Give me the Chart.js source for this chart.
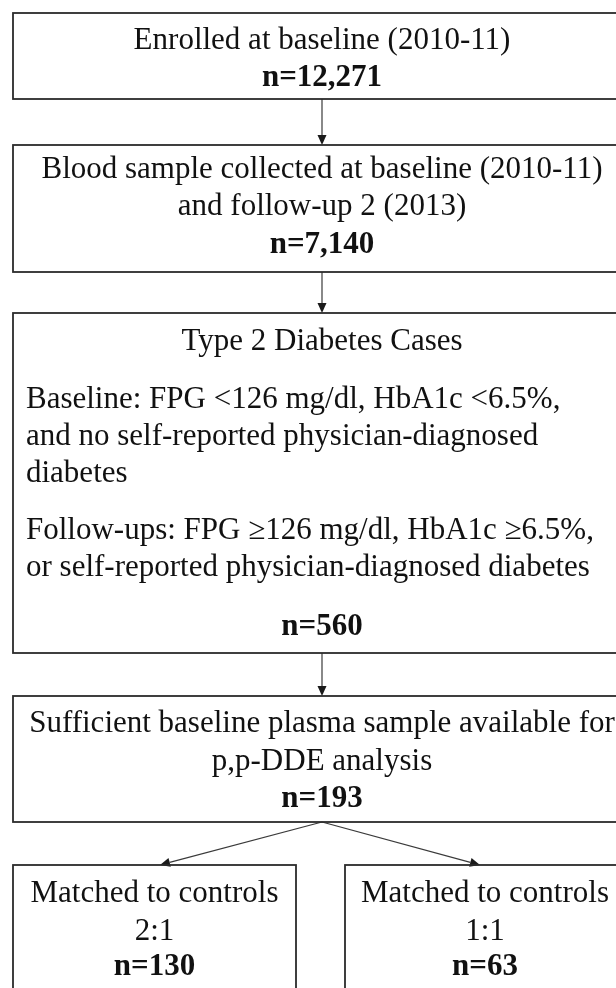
<!DOCTYPE html>
<html>
<head>
<meta charset="utf-8">
<script src="https://cdn.jsdelivr.net/npm/chart.js@4.4.1/dist/chart.umd.min.js"></script>
<style>
  html, body { margin: 0; padding: 0; background: #fff; }
  canvas { display: block; }
</style>
</head>
<body>
<canvas id="flowChart" width="616" height="988"></canvas>
<script>
// flow stages, top to bottom
const stageTitles = [
  ['Enrolled at baseline (2010-11)'],
  ['Blood sample collected at baseline (2010-11)', 'and follow-up 2 (2013)'],
  ['Type 2 Diabetes Cases'],
  ['Sufficient baseline plasma sample available for', 'p,p-DDE analysis'],
  ['Matched to controls', '2:1'],
  ['Matched to controls', '1:1']
];
const stageCounts = [12271, 7140, 560, 193, 130, 63];
const baselineCriteria = [
  'Baseline: FPG <126 mg/dl, HbA1c <6.5%,',
  'and no self-reported physician-diagnosed',
  'diabetes'
];
const followUpCriteria = [
  'Follow-ups: FPG \u2265126 mg/dl, HbA1c \u22656.5%,',
  'or self-reported physician-diagnosed diabetes'
];
const flowLinks = [[0, 1], [1, 2], [2, 3], [3, 4], [3, 5]];

// layout, in scale units (x 0-616, y 0-988 downwards)
const boxLayout = [
  { x0: 13,  x1: 631, y0: 13,  y1: 99,  cx: 322, rows: [49, 86] },
  { x0: 13,  x1: 631, y0: 145, y1: 272, cx: 322, rows: [178, 215, 253] },
  { x0: 13,  x1: 631, y0: 313, y1: 653, cx: 322, rows: [350, 408, 445, 482, 539, 576, 635] },
  { x0: 13,  x1: 631, y0: 696, y1: 822, cx: 322, rows: [732, 770, 807] },
  { x0: 13,  x1: 296, y0: 865, y1: 1000, cx: 154.5, rows: [902, 940, 975] },
  { x0: 345, x1: 625, y0: 865, y1: 1000, cx: 485, rows: [902, 940, 975] }
];
const criteriaX = 26;
const linkTargets = [322, 322, 322, 160, 480];

const FONT = '"Liberation Serif", "Times New Roman", serif';

function boxLines(i) {
  const lines = stageTitles[i].map(t => ({ text: t, bold: false, align: 'center' }));
  if (i === 2) {
    baselineCriteria.concat(followUpCriteria).forEach(t =>
      lines.push({ text: t, bold: false, align: 'left' }));
  }
  lines.push({ text: 'n=' + stageCounts[i].toLocaleString('en-US'), bold: true, align: 'center' });
  return lines;
}

const flowPlugin = {
  id: 'flow',
  beforeDraw(chart) {
    const c = chart.ctx;
    c.save();
    c.fillStyle = '#fff';
    c.fillRect(0, 0, chart.width, chart.height);
    c.restore();
  },
  afterDraw(chart) {
    const c = chart.ctx;
    const X = v => chart.scales.x.getPixelForValue(v);
    const Y = v => chart.scales.y.getPixelForValue(v);
    c.save();

    // links with arrow heads
    c.strokeStyle = '#3a3a3a';
    c.fillStyle = '#1a1a1a';
    c.lineWidth = 1.2;
    flowLinks.forEach(([from, to], k) => {
      const a = boxLayout[from], b = boxLayout[to];
      const x1 = X(a.cx), y1 = Y(a.y1);
      const x2 = X(linkTargets[k]), y2 = Y(b.y0);
      const ang = Math.atan2(y2 - y1, x2 - x1);
      const len = 10, half = 4.5;
      const bx = x2 - len * Math.cos(ang), by = y2 - len * Math.sin(ang);
      c.beginPath();
      c.moveTo(x1, y1);
      c.lineTo(bx, by);
      c.stroke();
      c.beginPath();
      c.moveTo(x2, y2);
      c.lineTo(bx + half * Math.sin(ang), by - half * Math.cos(ang));
      c.lineTo(bx - half * Math.sin(ang), by + half * Math.cos(ang));
      c.closePath();
      c.fill();
    });

    // boxes
    c.strokeStyle = '#2b2b2b';
    c.lineWidth = 1.8;
    boxLayout.forEach(b => {
      c.strokeRect(X(b.x0), Y(b.y0), X(b.x1) - X(b.x0), Y(b.y1) - Y(b.y0));
    });

    // text
    c.fillStyle = '#111';
    c.textBaseline = 'alphabetic';
    boxLayout.forEach((b, i) => {
      boxLines(i).forEach((ln, r) => {
        c.font = (ln.bold ? 'bold ' : '') + '31px ' + FONT;
        c.textAlign = ln.align;
        const x = ln.align === 'left' ? X(criteriaX) : X(b.cx);
        c.fillText(ln.text, x, Y(b.rows[r]));
      });
    });
    c.restore();
  }
};

new Chart(document.getElementById('flowChart'), {
  type: 'scatter',
  data: { datasets: [{ data: [] }] },
  options: {
    responsive: false,
    animation: false,
    events: [],
    layout: { padding: 0 },
    plugins: { legend: { display: false }, tooltip: { enabled: false } },
    scales: {
      x: { type: 'linear', min: 0, max: 616, display: false },
      y: { type: 'linear', min: 0, max: 988, reverse: true, display: false }
    }
  },
  plugins: [flowPlugin]
});
</script>
</body>
</html>
